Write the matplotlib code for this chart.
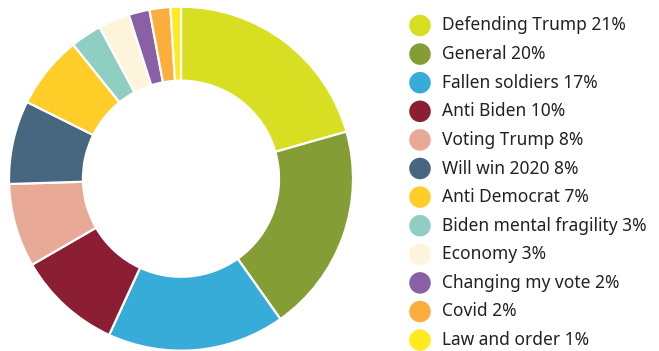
import matplotlib
matplotlib.use("Agg")
import matplotlib.pyplot as plt

categories = ["Defending Trump", "General", "Fallen soldiers", "Anti Biden",
              "Voting Trump", "Will win 2020", "Anti Democrat",
              "Biden mental fragility", "Economy", "Changing my vote",
              "Covid", "Law and order"]
shares = [21, 20, 17, 10, 8, 8, 7, 3, 3, 2, 2, 1]
colors = ["#d8df22", "#849d34", "#37acd9", "#8b1e33", "#e8aa96", "#46677f",
          "#fecd27", "#8fcfc3", "#fef4dc", "#895fa5", "#fbae3b", "#fdea1f"]

plt.rcParams["font.family"] = ["Noto Sans", "DejaVu Sans"]

W, H = 659, 351
fig = plt.figure(figsize=(W / 100, H / 100), dpi=100)

# donut
cx, cy, r = 181, 178.7, 172
ax = fig.add_axes([(cx - r) / W, (H - cy - r) / H, 2 * r / W, 2 * r / H])
ax.pie(shares, colors=colors, startangle=90, counterclock=False,
       radius=1.0,
       wedgeprops=dict(width=0.43, edgecolor="white", linewidth=1.6))
ax.set_xlim(-1, 1)
ax.set_ylim(-1, 1)
ax.set_aspect("equal")
ax.axis("off")

# legend drawn in pixel coordinates
lg = fig.add_axes([0, 0, 1, 1])
lg.set_xlim(0, W)
lg.set_ylim(H, 0)
lg.axis("off")
y0, dy = 25.5, 28.6
for i, (cat, val, col) in enumerate(zip(categories, shares, colors)):
    y = y0 + i * dy
    lg.scatter([420], [y], s=15.5 ** 2, color=col, edgecolors="none")
    lg.text(442, y, f"{cat} {val}%", fontsize=12.5, color="#222222",
            va="center", ha="left")

fig.savefig("out.png", dpi=100)
